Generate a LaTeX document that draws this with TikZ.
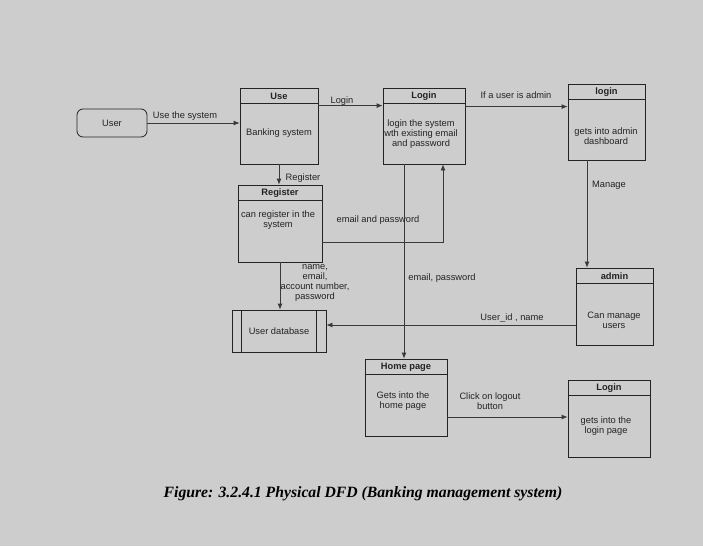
\documentclass[tikz,border=0pt]{standalone}
\usepackage{fontspec}
\setmainfont{Liberation Sans}
\newfontfamily\capfont{Liberation Serif}
\usetikzlibrary{arrows.meta}
\definecolor{bgcol}{RGB}{205,205,205}
\definecolor{inkcol}{RGB}{35,35,35}
\tikzset{
    proc/.style={draw=inkcol, line width=0.8pt, inner sep=0pt},
    hdr/.style={font=\fontsize{9.3}{10}\selectfont\bfseries, text=inkcol},
    txt/.style={font=\fontsize{9.3}{10}\selectfont, text=inkcol, align=center, inner sep=1pt},
    flow/.style={draw=inkcol!90, line width=0.8pt, -{Latex[length=6pt,width=5pt]}}
}
\begin{document}
\begin{tikzpicture}[x=1pt, y=-1pt]
    % Background and margins
    \fill[bgcol] (0,0) rectangle (703,546);
    \useasboundingbox (0,0) rectangle (703,546);

    % External entity
    \node[proc, rounded corners=6, minimum width=70, minimum height=28] (user) at (112,123) {};
    \node[txt] (user-txt) at (user.center) {User};

    % Processes
    \node[proc, minimum width=78, minimum height=76] (use) at (279,126) {};
    \node[proc, minimum width=82, minimum height=76] (login) at (424,126) {};
    \node[proc, minimum width=77, minimum height=76] (ladm) at (606.5,122) {};
    \node[proc, minimum width=84, minimum height=77] (reg) at (280,223.5) {};
    \node[proc, minimum width=77, minimum height=77] (admin) at (614.5,306.5) {};
    \node[proc, minimum width=82, minimum height=77] (home) at (406,397.5) {};
    \node[proc, minimum width=82, minimum height=77] (lout) at (609,418.5) {};

    % Header strip of every process
    \foreach \b/\t in {use/Use, login/Login, ladm/login, reg/Register, admin/admin, home/Home page, lout/Login} {
        \draw[inkcol, line width=0.8pt] ([yshift=-16]\b.north west) -- ([yshift=-16]\b.north east);
        \node[hdr] (\b-title) at ([yshift=-8.5]\b.north) {\t};
    }

    % Process bodies
    \node[txt] (use-txt) at (279,133) {Banking system};
    \node[txt] (login-txt) at (421,134.5) {login the system\\wth existing email\\and password};
    \node[txt] (ladm-txt) at (606,136) {gets into admin\\dashboard};
    \node[txt] (reg-txt) at (278,220.5) {can register in the\\system};
    \node[txt] (admin-txt) at (614,320.5) {Can manage\\users};
    \node[txt] (home-txt) at (403,401.5) {Gets into the\\home page};
    \node[txt] (lout-txt) at (606,426.5) {gets into the\\login page};

    % Data store
    \node[proc, minimum width=94, minimum height=42] (db) at (279,331) {};
    \draw[inkcol, line width=0.8pt] ([xshift=10]db.north west) -- ([xshift=10]db.south west);
    \draw[inkcol, line width=0.8pt] ([xshift=-10]db.north east) -- ([xshift=-10]db.south east);
    \node[txt] (db-txt) at (db.center) {User database};

    % Data flows
    \draw[flow] (user.east) -- (user.east -| use.west);
    \draw[flow] ([yshift=-18]use.north east) -- ([yshift=-18]use.north east -| login.west);
    \draw[flow] ([yshift=-19]login.north east) -- ([yshift=-19]login.north east -| ladm.west);
    \draw[flow] (use.south) -- (use.south |- reg.north);
    \draw[flow] ([yshift=20]reg.south east) -| ([xshift=19]login.south);
    \draw[flow] ([xshift=-20]login.south) -- ([xshift=-20]login.south |- home.north);
    \draw[flow] (reg.south) -- (reg.south |- db.north);
    \draw[flow] ([yshift=-18.5]admin.west) -- ([yshift=-18.5]admin.west -| db.east);
    \draw[flow] ([xshift=-19.5]ladm.south) -- ([xshift=-19.5]ladm.south |- admin.north);
    \draw[flow] ([yshift=-19.5]home.east) -- ([yshift=-19.5]home.east -| lout.west);

    % Flow labels
    \node[txt] (l-use) at (185,116) {Use the system};
    \node[txt] (l-login) at (342,101) {Login};
    \node[txt] (l-admin) at (516,95) {If a user is admin};
    \node[txt] (l-reg) at (303,178) {Register};
    \node[txt] (l-mail) at (378,220) {email and password};
    \node[txt] (l-pass) at (442,278) {email, password};
    \node[txt] (l-data) at (315,283) {name,\\email,\\account number,\\password};
    \node[txt] (l-uid) at (512,318) {User\_id , name};
    \node[txt] (l-manage) at (609,185) {Manage};
    \node[txt] (l-logout) at (490,401) {Click on logout\\button};

    % Caption
    \node[font=\capfont\fontsize{15.7}{18}\selectfont\bfseries\itshape] (caption) at (363,494)
        {Figure: 3.2.4.1 Physical DFD (Banking management system)};
\end{tikzpicture}
\end{document}
